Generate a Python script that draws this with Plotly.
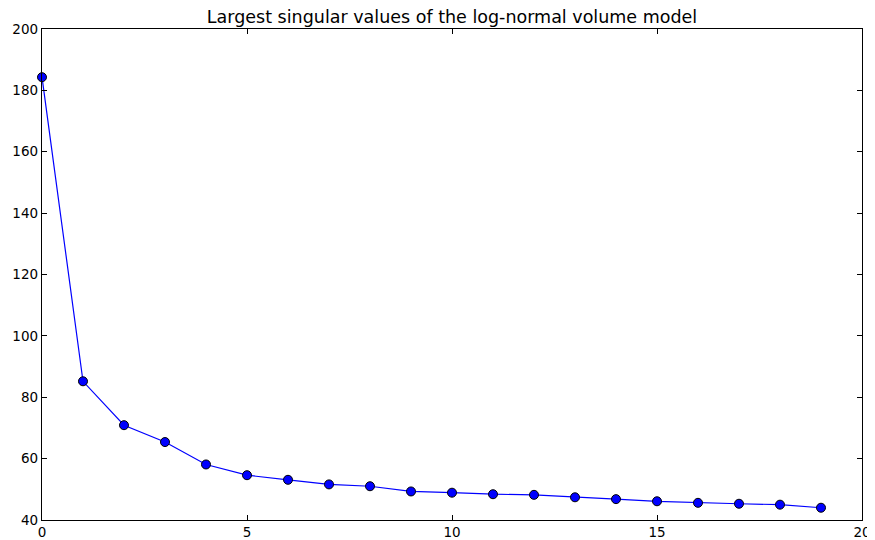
import plotly.graph_objects as go

x_index = list(range(20))
singular_values = [184.3, 85.2, 70.9, 65.4, 58.1, 54.6, 53.1, 51.6, 51.0, 49.3,
                   48.9, 48.4, 48.2, 47.4, 46.8, 46.1, 45.6, 45.3, 45.0, 44.0]
title_text = "Largest singular values of the log-normal volume model"
x_ticks = [0, 5, 10, 15, 20]
y_ticks = [40, 60, 80, 100, 120, 140, 160, 180, 200]

fig = go.Figure()
fig.add_trace(go.Scatter(
    x=x_index, y=singular_values, mode="lines+markers",
    line=dict(color="#0000ff", width=1.2),
    marker=dict(color="#0000ff", size=9, line=dict(color="black", width=1)),
    cliponaxis=False,
))

axis_common = dict(
    showgrid=False, zeroline=False, showline=True, linecolor="black", linewidth=1.3,
    mirror="allticks", ticks="inside", ticklen=5, tickwidth=1, tickcolor="black",
    tickfont=dict(family="DejaVu Sans", size=13.5, color="black"),
    automargin=False,
)
fig.update_xaxes(range=[0, 20], tickvals=x_ticks, **axis_common)
fig.update_yaxes(range=[40, 200], tickvals=y_ticks, **axis_common)

# page body adds an 8px offset; figure is sized to fill the remaining window
fig.update_layout(
    width=867, height=532,
    margin=dict(l=34, r=13, t=21, b=20),
    paper_bgcolor="white", plot_bgcolor="white",
    showlegend=False,
    title=dict(text=title_text, x=0.5, xref="paper", y=1, yref="paper",
               yanchor="bottom", pad=dict(b=6), automargin=False,
               font=dict(family="DejaVu Sans", size=17.5, color="black")),
)

fig.write_html("out.html")
